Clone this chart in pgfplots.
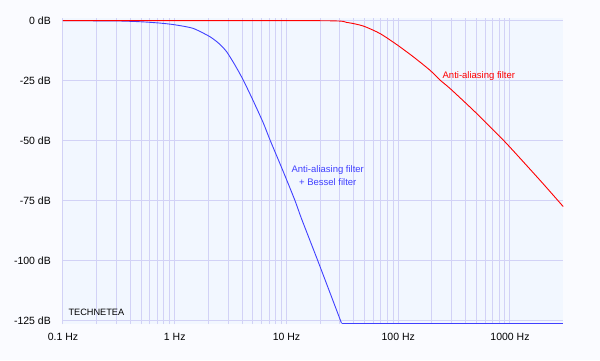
\documentclass[border=0pt]{standalone}
\usepackage{fontspec}
\setmainfont{Liberation Sans}
\usepackage{pgfplots}
\pgfplotsset{compat=1.18}
\definecolor{outerbg}{RGB}{250,251,255}
\definecolor{plotbg}{RGB}{242,247,255}
\definecolor{gridc}{RGB}{210,210,246}
\definecolor{bluec}{RGB}{64,64,255}
\definecolor{redc}{RGB}{255,0,0}
\begin{document}
\begin{tikzpicture}[x=1pt,y=1pt]
\fill[outerbg] (0,0) rectangle (600,360);
\begin{axis}[at={(63pt,36pt)}, anchor=south west, scale only axis,
  width=500.3pt, height=305.7pt,
  xmode=log, xmin=0.1, xmax=3000, ymin=-126.4, ymax=1,
  axis background/.style={fill=plotbg},
  axis line style={draw=none},
  grid=both,
  major grid style={draw=gridc, line width=1pt},
  minor grid style={draw=gridc, line width=1pt},
  xtick={0.1,1,10,100,1000},
  xticklabels={0.1 Hz,1 Hz,10 Hz,100 Hz,1000 Hz},
  ytick={0,-25,-50,-75,-100,-125},
  yticklabels={0 dB,-25 dB,-50 dB,-75 dB,-100 dB,-125 dB},
  minor ytick={},
  major tick length=0pt, minor tick length=0pt,
  ticklabel style={font=\fontsize{10.5}{12}\selectfont, inner sep=0pt},
  xticklabel style={anchor=center, yshift=-12.7pt},
  yticklabel style={anchor=east, xshift=-12pt},
  ]
\addplot[draw=bluec, line width=0.9pt, smooth, tension=0.4] coordinates {
(0.1,0) (0.3,-0.1) (0.5,-0.45) (0.74,-1.0) (1.0,-1.7) (1.46,-3.2) (2.07,-6.7)
(2.5,-9.6) (2.91,-12.9) (3.45,-18.4) (4.1,-24.7) (5.04,-33.4) (6.2,-42.6) (7.11,-49.6) (9.36,-62.9)
(11.9,-74.9) (13.6,-82.4) (19.2,-100.4) (31.1,-126.1)};
\addplot[draw=bluec, line width=0.9pt] coordinates {(31.1,-126.1) (3000,-126.1)};
\addplot[draw=redc, line width=0.9pt, smooth, tension=0.4] coordinates {
(0.1,0) (20,0) (34.4,-0.7) (48.5,-2.2) (68.4,-5.3) (96.6,-9.9) (136,-15)
(192,-20.6) (236,-24.7) (290,-28.2) (484,-37.9) (898,-50.4) (1849,-66.4) (3000,-77.5)};
\node[text=redc, font=\fontsize{9.5}{11}\selectfont, inner sep=0pt] at (axis cs:526,-23.0) {Anti-aliasing filter};
\node[text=bluec, font=\fontsize{9.5}{11}\selectfont, inner sep=0pt] at (axis cs:23.4,-62.2) {Anti-aliasing filter};
\node[text=bluec, font=\fontsize{9.5}{11}\selectfont, inner sep=0pt] at (axis cs:23.4,-67.2) {+ Bessel filter};
\node[text=black, font=\fontsize{9.2}{11}\selectfont, inner sep=0pt, anchor=west] at (axis cs:0.1116,-121.7) {TECHNETEA};
\end{axis}
\end{tikzpicture}
\end{document}
